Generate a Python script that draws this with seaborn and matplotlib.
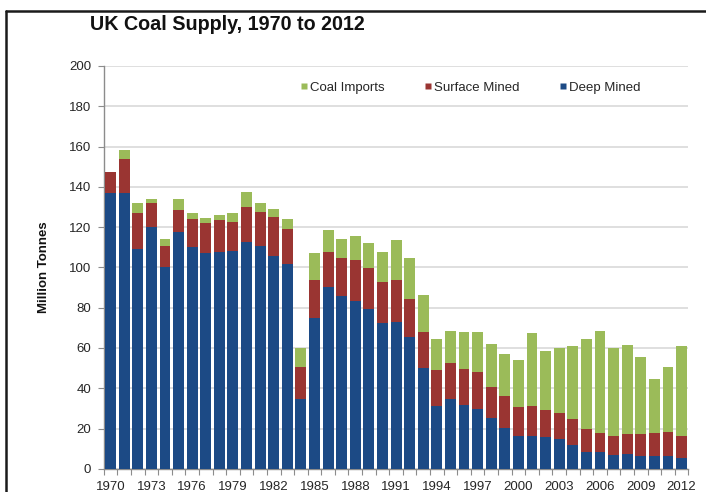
import numpy as np
import pandas as pd
import matplotlib
matplotlib.use("Agg")
import matplotlib.pyplot as plt
from matplotlib.lines import Line2D
import seaborn as sns

years = list(range(1970, 2013))

deep_mined = [136.8, 136.8, 109.2, 120.2, 100.1, 117.5, 110.3, 107.0, 107.5, 107.9,
              112.4, 110.4, 105.8, 101.8, 34.7, 75.1, 90.1, 85.9, 83.5, 79.4,
              72.6, 73.1, 65.7, 50.0, 31.4, 34.6, 31.8, 29.8, 25.1, 20.5,
              16.5, 16.5, 15.7, 14.9, 11.9, 8.6, 8.6, 6.9, 7.4, 6.6,
              6.6, 6.5, 5.3]
surface_mined = [10.7, 17.0, 17.7, 12.0, 10.4, 11.2, 13.6, 15.2, 16.2, 14.4,
                 17.8, 17.1, 19.0, 17.4, 16.1, 18.7, 17.7, 18.6, 20.2, 20.2,
                 20.0, 20.7, 18.5, 17.8, 17.7, 18.1, 17.8, 18.2, 15.4, 15.9,
                 14.1, 14.9, 13.6, 12.7, 12.8, 11.1, 9.1, 9.5, 10.0, 10.8,
                 11.1, 11.7, 11.1]
coal_imports = [0.0, 4.5, 5.3, 1.6, 3.7, 5.3, 3.0, 2.5, 2.5, 4.7,
                7.4, 4.5, 4.2, 4.7, 9.4, 13.2, 10.8, 9.6, 12.1, 12.4,
                14.9, 19.8, 20.3, 18.6, 15.4, 15.9, 18.2, 20.0, 21.5, 20.7,
                23.5, 35.9, 29.3, 32.3, 36.3, 44.7, 50.9, 43.5, 44.1, 38.3,
                26.8, 32.6, 44.8]

y_ticks = list(range(0, 201, 20))
x_label_years = years[::3]

col_deep = "#1c4a85"
col_surface = "#9a3532"
col_imports = "#9bbb59"

df = pd.DataFrame({"year": [str(y) for y in years],
                   "deep": deep_mined,
                   "surface": surface_mined,
                   "imports": coal_imports})
df["deep_surface"] = df["deep"] + df["surface"]
df["total"] = df["deep_surface"] + df["imports"]

sns.set_theme(style="white")
plt.rcParams["font.family"] = ["Liberation Sans", "DejaVu Sans"]

fig = plt.figure(figsize=(7.06, 4.92), dpi=100)
ax = fig.add_axes([0.147, 0.047, 0.828, 0.819])

# stacked columns: draw cumulative heights from the top layer down
sns.barplot(data=df, x="year", y="total", color=col_imports, width=0.8,
            saturation=1, edgecolor="none", ax=ax, zorder=3)
sns.barplot(data=df, x="year", y="deep_surface", color=col_surface, width=0.8,
            saturation=1, edgecolor="none", ax=ax, zorder=3)
sns.barplot(data=df, x="year", y="deep", color=col_deep, width=0.8,
            saturation=1, edgecolor="none", ax=ax, zorder=3)

ax.set_xlim(-0.5, len(years) - 0.5)
ax.set_ylim(0, 200)
ax.set_yticks(y_ticks)
ax.set_yticklabels([str(v) for v in y_ticks], fontsize=9.5, color="#262626")
ax.yaxis.grid(True, color="#dcdcdc", linewidth=1.3, zorder=0)
ax.set_axisbelow(True)

pos = [years.index(y) for y in x_label_years]
ax.set_xticks(pos)
ax.set_xticklabels([str(y) for y in x_label_years], fontsize=9.5, color="#262626")
ax.set_xticks(np.arange(-0.5, len(years), 1.0), minor=True)
ax.tick_params(axis="x", which="major", length=0, pad=9)
ax.tick_params(axis="x", which="minor", length=4, width=0.8, color="#8c8c8c",
               direction="out", bottom=True)
ax.tick_params(axis="y", which="major", length=4, width=0.8, color="#8c8c8c",
               direction="out", left=True, pad=5)

for side in ["top", "right"]:
    ax.spines[side].set_visible(False)
for side in ["left", "bottom"]:
    ax.spines[side].set_color("#8c8c8c")
    ax.spines[side].set_linewidth(1.0)

ax.set_xlabel("")
ax.set_ylabel("Million Tonnes", fontsize=9.5, fontweight="bold", color="#111111",
              labelpad=14)

# legend with small square markers
handles = [Line2D([0], [0], marker="s", linestyle="none", markersize=5,
                  markerfacecolor=c, markeredgecolor="none")
           for c in (col_imports, col_surface, col_deep)]
ax.legend(handles, ["Coal Imports", "Surface Mined", "Deep Mined"],
          loc="upper center", bbox_to_anchor=(0.627, 0.99), ncol=3,
          frameon=False, fontsize=9.5, handlelength=0.6, handletextpad=0.15,
          columnspacing=3.0, labelcolor="#262626")

fig.text(0.128, 0.951, "UK Coal Supply, 1970 to 2012", fontsize=14.2,
         fontweight="bold", color="#111111", ha="left", va="center")

# outer frame lines (top and left)
fig.add_artist(Line2D([0.008, 1.0], [0.978, 0.978], transform=fig.transFigure,
                      color="#1a1a1a", linewidth=1.8))
fig.add_artist(Line2D([0.009, 0.009], [0.0, 0.978], transform=fig.transFigure,
                      color="#1a1a1a", linewidth=1.8))

fig.savefig("out.png", dpi=100)
